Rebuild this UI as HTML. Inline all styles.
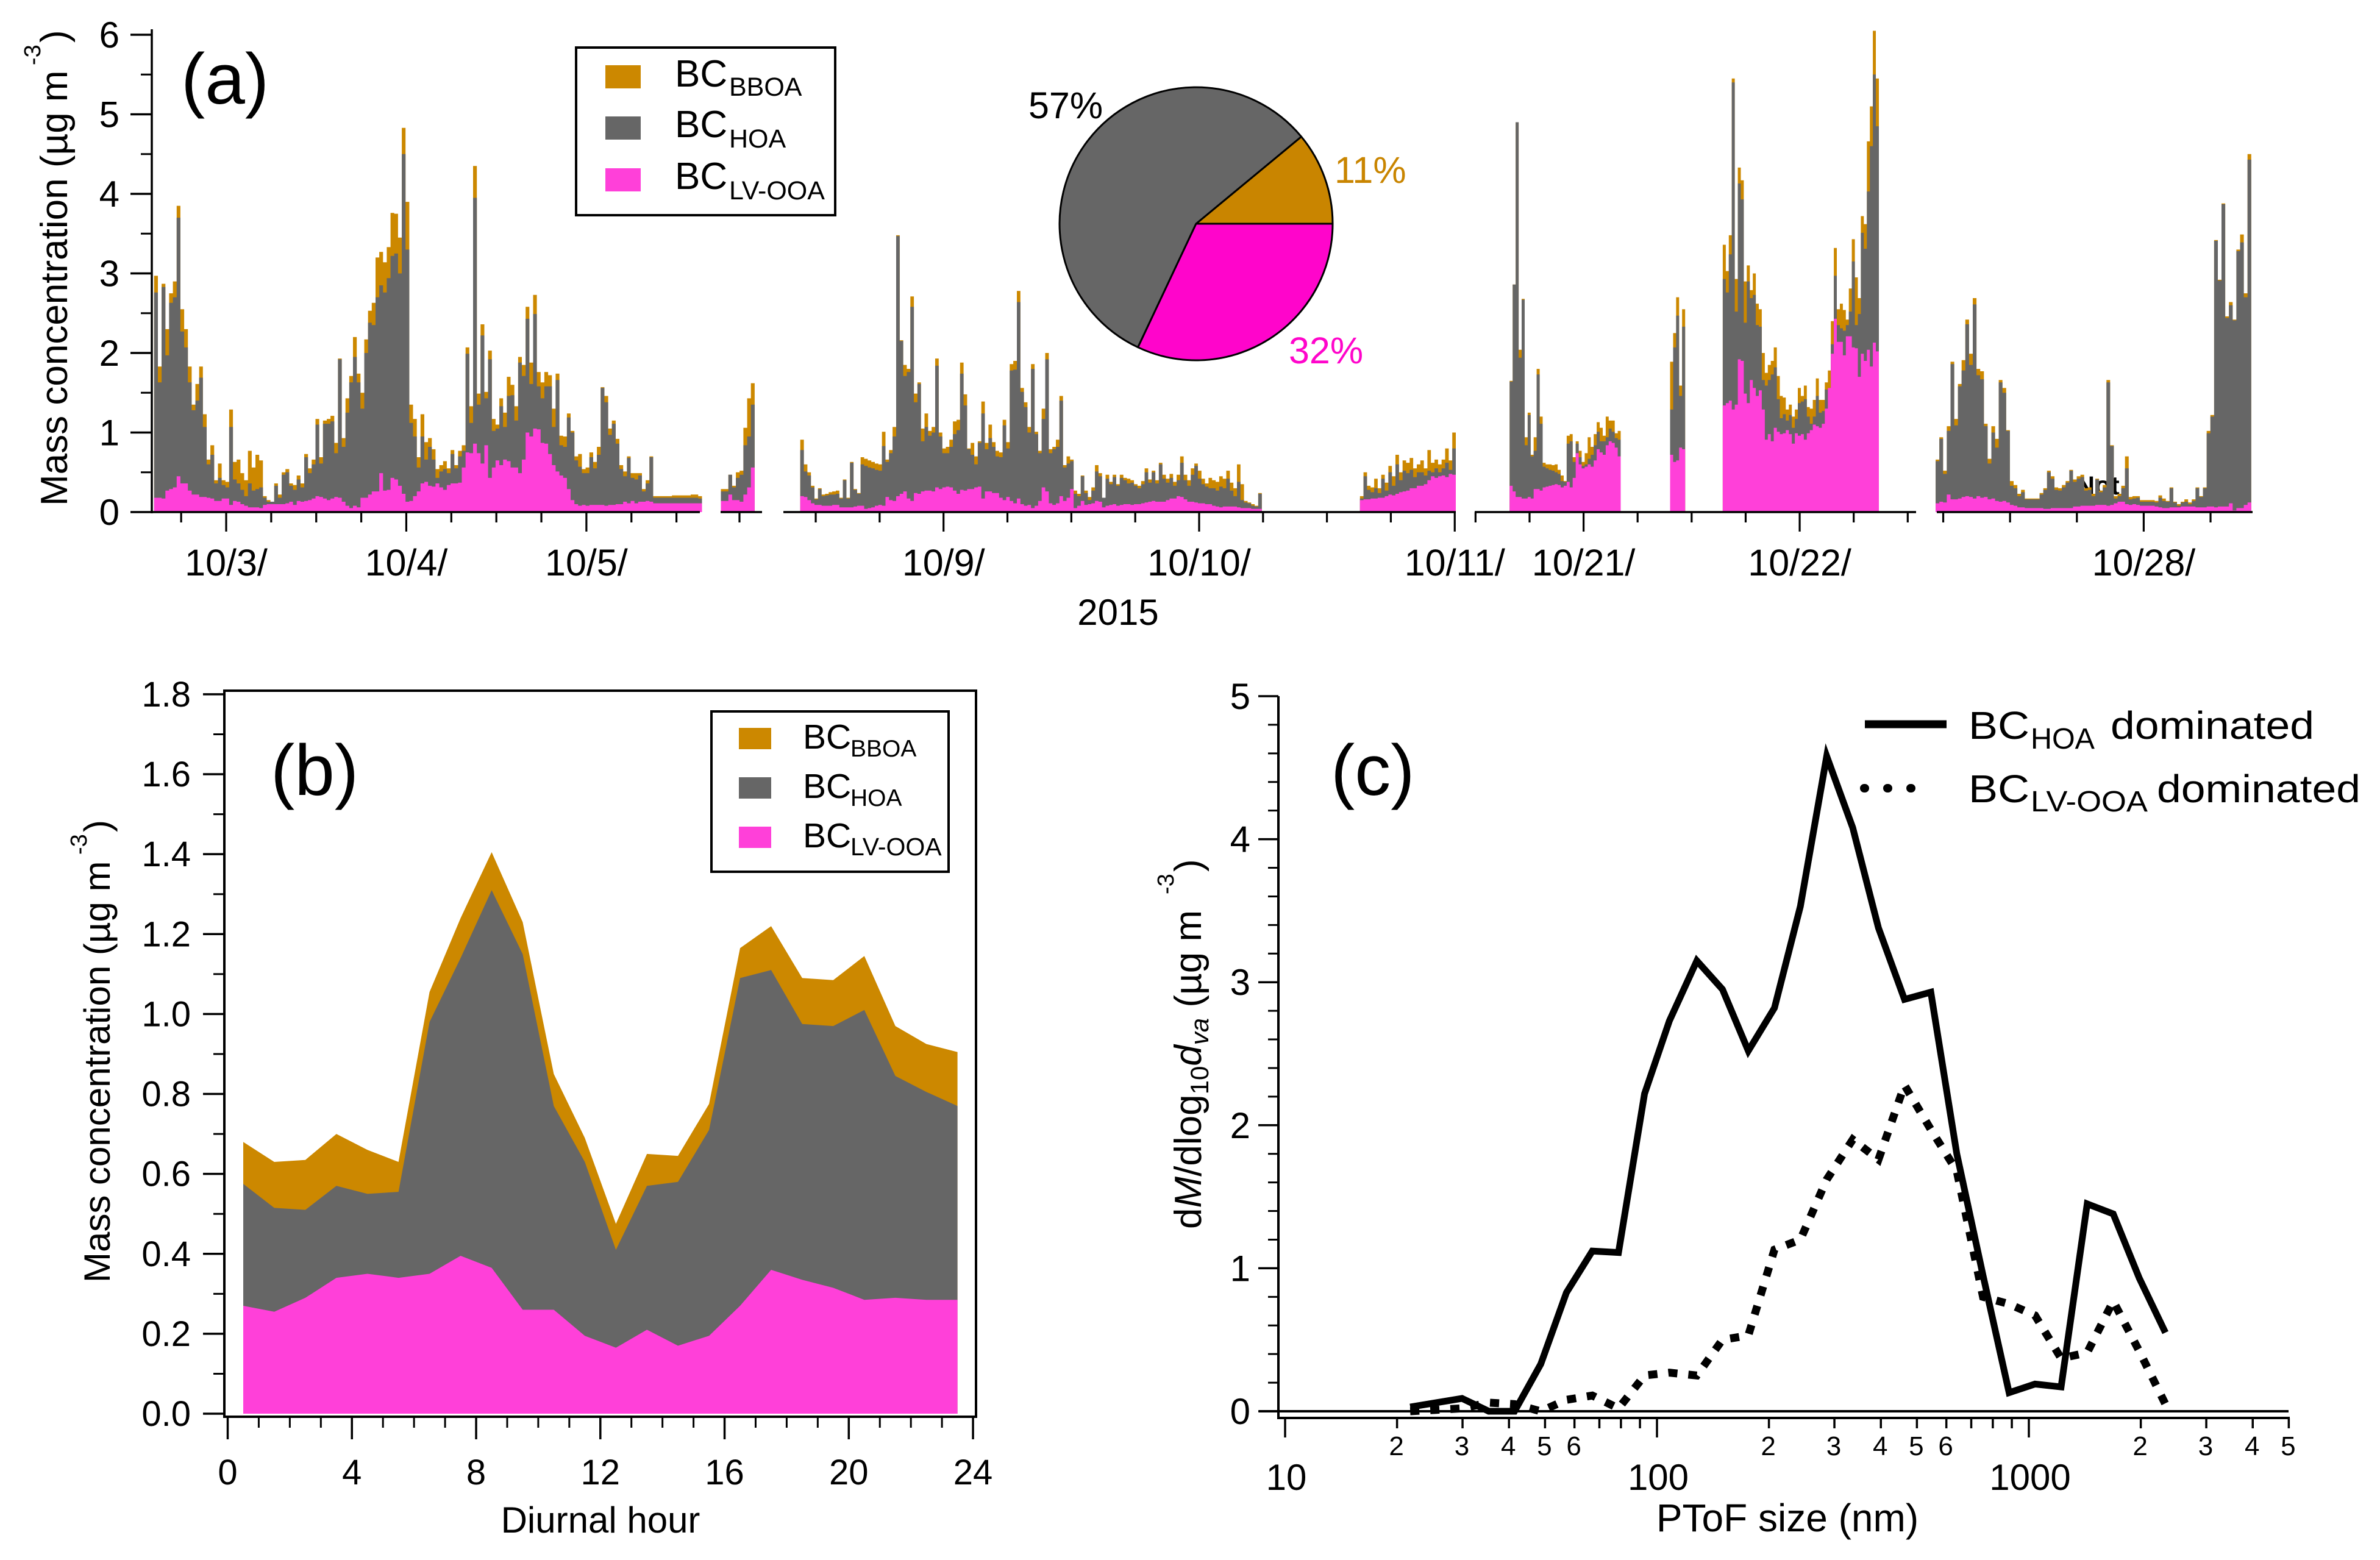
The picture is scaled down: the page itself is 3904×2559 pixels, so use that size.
<!DOCTYPE html>
<html lang="en">
<head>
<meta charset="utf-8">
<title>BC source mass concentrations</title>
<style>
html,body{margin:0;padding:0;background:#fff;}
svg{display:block;}
text{font-family:"Liberation Sans",Arial,sans-serif;fill:#000;}
</style>
</head>
<body>
<svg id="fig" xmlns="http://www.w3.org/2000/svg" width="3904" height="2559" viewBox="0 0 3904 2559">
<rect width="3904" height="2559" fill="#fff"/>

<!-- Panel a static text -->
<g id="panelA">
<text x="3405" y="811" font-size="43" font-weight="bold">Not</text>
</g>
<g id="panelAText">
<text x="297" y="170" font-size="118">(a)</text>
<text transform="translate(110,830) rotate(-90)" font-size="62">Mass concentration (µg m</text>
<text transform="translate(66,107) rotate(-90)" font-size="38">-3</text>
<text transform="translate(110,70) rotate(-90)" font-size="62">)</text>
<text x="1834" y="1025" font-size="60" text-anchor="middle">2015</text>
<rect x="945" y="78" width="425" height="275" fill="#fff" stroke="#000" stroke-width="4"/>
<rect x="993" y="107" width="58" height="38" fill="#CC8800"/>
<rect x="993" y="191" width="58" height="38" fill="#666666"/>
<rect x="993" y="276" width="58" height="38" fill="#FF40D9"/>
<text x="1107" y="142" font-size="62">BC</text>
<text x="1196" y="157" font-size="43">BBOA</text>
<text x="1107" y="225" font-size="62">BC</text>
<text x="1196" y="242" font-size="43">HOA</text>
<text x="1107" y="310" font-size="62">BC</text>
<text x="1196" y="327" font-size="43">LV-OOA</text>
<g id="pie"></g>
<text x="1687" y="194" font-size="61">57%</text>
<text x="2189" y="300" font-size="61" style="fill:#C98500">11%</text>
<text x="2114" y="596" font-size="61" style="fill:#FF05CB">32%</text>
</g>

<!-- Panel b -->
<g id="panelB"></g>
<g>
<text x="444" y="1304" font-size="118">(b)</text>
<text transform="translate(180,2104) rotate(-90)" font-size="60">Mass concentration (µg m</text>
<text transform="translate(142,1402) rotate(-90)" font-size="38">-3</text>
<text transform="translate(180,1365) rotate(-90)" font-size="60">)</text>
<text x="985" y="2514" font-size="60" text-anchor="middle">Diurnal hour</text>
<rect x="1167" y="1167" width="389" height="263" fill="#fff" stroke="#000" stroke-width="4"/>
<rect x="1212" y="1194" width="53" height="35" fill="#CC8800"/>
<rect x="1212" y="1275" width="53" height="35" fill="#666666"/>
<rect x="1212" y="1356" width="53" height="35" fill="#FF40D9"/>
<text x="1317" y="1228" font-size="57">BC</text>
<text x="1395" y="1241" font-size="39">BBOA</text>
<text x="1317" y="1309" font-size="57">BC</text>
<text x="1395" y="1322" font-size="39">HOA</text>
<text x="1317" y="1390" font-size="57">BC</text>
<text x="1395" y="1403" font-size="41">LV-OOA</text>
</g>

<!-- Panel c -->
<g id="panelC"></g>
<g>
<text x="2183" y="1304" font-size="118">(c)</text>
<text transform="translate(1970,2016) rotate(-90)" font-size="62">d<tspan font-style="italic">M</tspan>/dlog<tspan font-size="42" dy="12">10</tspan><tspan font-style="italic" dy="-12">d</tspan><tspan font-style="italic" font-size="42" dy="12">va</tspan><tspan dy="-12">&#160;(µg m</tspan></text>
<text transform="translate(1925,1467) rotate(-90)" font-size="38">-3</text>
<text transform="translate(1970,1430) rotate(-90)" font-size="62">)</text>
<text x="2932" y="2512" font-size="64" text-anchor="middle">PToF size (nm)</text>
<line x1="3059" y1="1188" x2="3193" y2="1188" stroke="#000" stroke-width="13"/>
<line x1="3058" y1="1293" x2="3172" y2="1293" stroke="#000" stroke-width="14" stroke-linecap="round" stroke-dasharray="1 37"/>
<text x="3229" y="1212" font-size="64" textLength="100" lengthAdjust="spacingAndGlyphs">BC</text>
<text x="3331" y="1228" font-size="48" textLength="105" lengthAdjust="spacingAndGlyphs">HOA</text>
<text x="3462" y="1212" font-size="64" textLength="334" lengthAdjust="spacingAndGlyphs">dominated</text>
<text x="3229" y="1316" font-size="64" textLength="100" lengthAdjust="spacingAndGlyphs">BC</text>
<text x="3331" y="1331" font-size="48" textLength="192" lengthAdjust="spacingAndGlyphs">LV-OOA</text>
<text x="3538" y="1316" font-size="64" textLength="334" lengthAdjust="spacingAndGlyphs">dominated</text>
</g>
</svg>

<script>
// ---------- Panel (a) data: stacked tops, µg m-3 ----------
const seg1aBboaTop=[2.97,1.83,2.87,2.3,2.75,2.9,3.85,2.55,2.3,1.83,1.35,1.61,1.83,1.23,.66,.84,.4,.61,.4,.38,1.29,.63,.66,.49,.4,.77,.56,.72,.65,.2,.15,.13,.36,.22,.5,.54,.36,.34,.46,.36,.73,.55,.66,1.17,.69,1.15,1.17,1.21,.87,1.93,.93,1.43,1.71,2.2,1.74,1.5,2.17,2.53,2.63,3.2,3.27,3.14,3.33,3.76,3.75,3.45,4.83,3.9,1.35,1.17,.69,1.23,.88,.93,.79,.54,.59,.64,.55,.78,.59,.77,.84,2.07,1.33,4.35,1.49,2.36,1.51,2.03,1.17,1.1,1.43,1.25,1.7,1.6,1.33,1.95,1.85,2.58,1.88,2.73,1.76,1.63,1.76,1.72,1.3,1.74,.96,.95,1.24,1.02,.7,.73,.54,.56,.75,.63,.82,1.57,1.46,1.05,1.15,.92,.59,.51,.7,.49,.49,.49,.29,.4,.7,.2,.2,.2,.2,.2,.21,.21,.21,.21,.21,.22,.22,.2];
const seg1aHoaTop=[2.76,1.63,2.83,1.97,2.63,2.7,3.7,2.27,2.07,1.63,1.28,1.4,1.69,1.07,.6,.72,.36,.43,.34,.31,1.07,.41,.36,.28,.2,.36,.27,.29,.31,.18,.13,.13,.33,.18,.47,.5,.33,.28,.41,.31,.69,.49,.6,1.1,.61,1.11,1.11,1.14,.74,1.92,.82,1.25,1.63,1.95,1.63,1.3,2,2.38,2.35,2.7,2.85,2.76,2.94,3.22,3.25,3,4.5,3.3,1.12,.95,.56,.95,.66,.82,.66,.43,.51,.54,.49,.73,.55,.7,.77,1.99,1.12,3.95,1.35,2.22,1.43,1.92,1.02,1.05,1.33,1.07,1.46,1.47,1.15,1.88,1.71,2.43,1.61,2.49,1.58,1.43,1.58,1.58,1.07,1.66,.84,.82,1.19,1,.65,.57,.49,.49,.69,.55,.72,1.56,1.38,.97,1.11,.86,.54,.45,.68,.43,.41,.46,.26,.36,.69,.18,.18,.18,.18,.18,.18,.18,.18,.18,.18,.18,.18,.17];
const seg1aLvTop=[.18,.18,.17,.27,.29,.31,.45,.36,.36,.27,.22,.22,.19,.19,.18,.17,.14,.14,.17,.17,.09,.14,.13,.1,.08,.06,.06,.06,.05,.09,.1,.1,.1,.1,.1,.11,.13,.09,.14,.13,.14,.15,.17,.2,.19,.17,.15,.17,.19,.18,.13,.08,.05,.08,.06,.18,.18,.22,.26,.26,.49,.27,.28,.43,.41,.33,.23,.13,.14,.2,.26,.36,.38,.33,.32,.36,.31,.28,.34,.36,.36,.37,.56,.75,.74,.86,.74,.61,.84,.43,.56,.65,.59,.66,.64,.56,.56,.49,.66,1,.95,1.05,1.04,.87,.86,.73,.59,.51,.46,.43,.29,.15,.1,.08,.09,.08,.09,.09,.09,.09,.08,.09,.09,.1,.1,.13,.11,.14,.11,.13,.13,.14,.13,.11,.11,.11,.11,.11,.11,.11,.11,.11,.11,.11,.11,.11];
const seg1bBboaTop=[.29,.29,.47,.33,.5,.52,1.06,1.43,1.62];
const seg1bHoaTop=[.26,.26,.47,.31,.43,.47,.84,.95,1.35];
const seg1bLvTop=[.14,.14,.22,.15,.15,.13,.22,.31,.56];
const seg2aBboaTop=[.91,.6,.5,.33,.17,.3,.22,.23,.25,.26,.27,.18,.41,.18,.63,.29,.24,.69,.67,.65,.63,.61,.6,1.01,.66,.78,1.07,3.48,2.16,1.85,1.8,2.71,1.49,1.63,1.05,1.24,1.02,1.07,1.93,1,.8,.82,.91,1.14,1.16,1.88,1.48,.8,.87,.7,.89,1.39,.87,1.1,.88,.77,.75,1.16,.88,1.86,1.9,2.78,1.56,1.38,1.07,1.86,1.01,.77,1.3,2,.79,.82,.91,1.46,.59,.7,.66,.27,.23,.46,.27,.19,.31,.59,.49,.18,.47,.38,.47,.35,.47,.43,.42,.4,.35,.33,.39,.55,.41,.52,.4,.62,.47,.42,.48,.38,.47,.7,.47,.4,.55,.61,.52,.42,.36,.43,.4,.38,.45,.42,.52,.37,.3,.6,.35,.14,.12,.1,.08,.24];
const seg2aHoaTop=[.78,.51,.46,.31,.16,.29,.2,.21,.22,.22,.23,.17,.4,.17,.62,.28,.23,.6,.58,.56,.55,.53,.52,.83,.63,.74,.95,3.47,2.15,1.71,1.76,2.58,1.38,1.61,.89,1.07,.96,1,1.84,.95,.74,.74,.82,.98,1.03,1.74,1.34,.79,.72,.6,.87,1.24,.79,.93,.82,.7,.69,1.09,.8,1.78,1.79,2.64,1.51,1.32,1,1.8,.98,.74,1.17,1.92,.74,.79,.82,1.4,.56,.61,.64,.23,.2,.45,.24,.15,.27,.51,.45,.18,.42,.35,.44,.33,.43,.4,.36,.37,.33,.3,.35,.5,.37,.5,.36,.6,.42,.37,.43,.33,.4,.62,.4,.33,.47,.58,.42,.35,.32,.3,.3,.27,.32,.3,.42,.27,.2,.38,.15,.12,.11,.08,.07,.23];
const seg2aLvTop=[.2,.19,.15,.11,.09,.09,.08,.08,.08,.09,.09,.06,.06,.06,.06,.07,.08,.08,.04,.05,.06,.08,.09,.08,.19,.15,.14,.2,.23,.26,.17,.14,.24,.23,.26,.27,.27,.26,.31,.29,.31,.32,.31,.27,.23,.28,.27,.29,.29,.31,.32,.17,.26,.26,.24,.24,.18,.15,.19,.14,.11,.17,.1,.08,.09,.05,.08,.14,.31,.26,.11,.09,.11,.2,.14,.18,.29,.05,.08,.14,.09,.1,.11,.14,.13,.06,.08,.09,.1,.08,.09,.1,.1,.09,.1,.1,.11,.12,.13,.14,.13,.13,.13,.15,.17,.17,.2,.19,.16,.13,.13,.12,.11,.11,.1,.1,.08,.07,.06,.07,.07,.07,.07,.06,.05,.05,.05,.04,.04,.04];
const seg2bBboaTop=[.2,.5,.33,.31,.42,.3,.47,.37,.58,.45,.72,.5,.65,.62,.68,.55,.6,.65,.55,.78,.62,.66,.6,.66,.8,.65,1];
const seg2bHoaTop=[.17,.45,.28,.25,.3,.24,.42,.27,.5,.33,.6,.4,.52,.49,.53,.44,.5,.5,.46,.52,.5,.55,.5,.55,.62,.53,.8];
const seg2bLvTop=[.15,.16,.16,.17,.17,.18,.18,.2,.22,.21,.23,.25,.26,.27,.3,.3,.33,.33,.35,.4,.45,.43,.45,.46,.44,.48,.47];
const seg3aBboaTop=[1.65,2.86,4.9,2.04,2.68,.94,1.25,.72,.94,1.8,1.2,.62,.6,.6,.59,.6,.53,.46,.39,.96,.98,.69,.89,.77,.63,.74,.94,.82,.98,1.13,1.06,.96,1.2,1.15,1.15,.99,1.02];
const seg3aHoaTop=[1.64,2.86,4.9,1.94,2.67,.84,1.22,.7,.77,1.73,1.11,.57,.55,.53,.52,.5,.48,.39,.38,.86,.89,.63,.86,.69,.58,.6,.67,.72,.84,1.01,.89,.89,.94,1.05,1.01,.93,.91];
const seg3aLvTop=[.33,.26,.19,.19,.17,.17,.19,.17,.29,.29,.27,.31,.32,.33,.34,.35,.34,.31,.33,.38,.31,.43,.74,.6,.55,.57,.6,.57,.65,.79,.75,.72,.84,.89,.87,.81,.7];
const seg3bBboaTop=[1.89,2.25,2.7,1.59,2.55];
const seg3bHoaTop=[1.29,2.07,2.47,1.46,2.33];
const seg3bLvTop=[.72,.63,.65,.81,.79];
const seg3cBboaTop=[3.36,3.03,3.48,5.45,2.93,4.33,4.17,2.9,3.1,2.79,3,2.62,2.55,2,1.75,1.85,1.9,2.07,1.71,1.46,1.44,1.29,1.35,1.2,1.29,1.56,1.46,1.59,1.32,1.3,1.41,1.68,1.41,1.41,1.63,1.78,2.4,3.32,2.55,2.62,2.54,2.42,2.81,3.43,2.95,2.69,3.72,3.62,4.66,5.1,6.05,5.45];
const seg3cHoaTop=[2.93,2.76,3.24,5.4,2.52,4.13,3.93,2.38,2.9,2.69,2.73,2.35,2.33,1.66,1.59,1.66,1.73,1.82,1.42,1.18,1.23,1.15,1.22,1.06,1.17,1.37,1.39,1.42,1.2,1.11,1.2,1.46,1.25,1.27,1.54,1.56,2.11,2.97,2.35,2.31,2.28,2.35,2.52,3.15,2.35,2.49,3.51,3.31,4.03,4.6,5.5,4.85];
const seg3cLvTop=[1.34,1.37,1.4,1.29,1.35,1.92,1.9,1.49,1.37,1.66,1.56,1.46,1.53,1.29,.91,.98,.89,1.06,1.01,.98,.99,1.03,.98,.86,.99,.96,.98,.91,.99,1.03,1.1,1.08,1.06,1.11,1.3,1.56,1.99,2.43,2.14,2.14,1.97,2.21,2.21,2.07,2.06,1.7,1.99,1.9,2.04,1.83,2.13,2.02];
const seg4BboaTop=[.66,.94,.52,1.08,1.89,1.17,1.61,1.91,2.42,1.99,2.69,1.8,1.77,1.11,.67,1.08,.92,1.66,1.56,1.03,.39,.34,.23,.28,.17,.17,.17,.17,.24,.3,.52,.45,.31,.3,.34,.39,.53,.41,.45,.47,.3,.31,.23,.42,.27,.34,1.66,.84,.2,.23,.33,.7,.19,.2,.2,.15,.15,.15,.15,.14,.21,.17,.14,.31,.13,.1,.13,.16,.12,.16,.31,.2,.31,1.02,1.22,3.42,2.92,3.88,2.46,2.64,2.42,3.3,3.49,2.75,4.5];
const seg4HoaTop=[.64,.92,.48,1.02,1.86,1.09,1.58,1.78,2.36,1.85,2.61,1.72,1.67,1.08,.61,1,.81,1.63,1.5,1.02,.33,.3,.2,.25,.16,.16,.16,.16,.22,.28,.5,.42,.28,.27,.31,.37,.52,.38,.42,.44,.27,.28,.2,.41,.25,.31,1.63,.83,.17,.2,.3,.55,.16,.17,.18,.13,.13,.13,.13,.12,.18,.14,.13,.3,.12,.08,.12,.13,.1,.14,.3,.19,.3,.99,1.2,3.41,2.91,3.87,2.44,2.6,2.41,3.28,3.39,2.7,4.43];
const seg4LvTop=[.11,.13,.12,.22,.16,.16,.17,.19,.2,.19,.17,.2,.18,.19,.16,.17,.14,.13,.14,.12,.09,.08,.06,.06,.05,.05,.05,.05,.05,.04,.04,.05,.05,.05,.05,.05,.05,.07,.07,.08,.08,.08,.08,.09,.09,.09,.08,.09,.11,.13,.13,.1,.09,.1,.09,.08,.08,.08,.08,.07,.06,.05,.05,.06,.06,.06,.07,.07,.07,.07,.06,.06,.06,.07,.07,.06,.07,.07,.07,.11,.02,.05,.05,.09,.12];
const aYTicks=[0,1,2,3,4,5,6];
const dayLabelsA=["10/3/","10/4/","10/5/"];
const dayLabelsB=["10/9/","10/10/","10/11/"];
const dayLabelsC=["10/21/","10/22/"];
const dayLabelsD=["10/28/"];
const pieShares=[11,57,32];
const pieNames=["bboa","hoa","lv-ooa"];

// ---------- Panel (b) data ----------
const diurnalHours=[.5,1.5,2.5,3.5,4.5,5.5,6.5,7.5,8.5,9.5,10.5,11.5,12.5,13.5,14.5,15.5,16.5,17.5,18.5,19.5,20.5,21.5,22.5,23.5];
const diurnalBboaTop=[.68,.63,.635,.70,.66,.63,1.055,1.24,1.405,1.23,.85,.69,.475,.65,.645,.775,1.165,1.22,1.09,1.085,1.145,.97,.925,.905];
const diurnalHoaTop=[.575,.515,.51,.57,.55,.555,.98,1.14,1.31,1.15,.77,.63,.41,.57,.58,.71,1.09,1.11,.975,.97,1.01,.845,.805,.77];
const diurnalLvTop=[.27,.255,.29,.34,.35,.34,.35,.395,.365,.26,.26,.195,.165,.21,.17,.195,.27,.36,.335,.315,.285,.29,.285,.285];
const bYTickLabels=["0.0","0.2","0.4","0.6","0.8","1.0","1.2","1.4","1.6","1.8"];
const bXTickLabels=["0","4","8","12","16","20","24"];

// ---------- Panel (c) data ----------
const ptofSize=[21.7,25.5,29.9,35.3,41.4,48.7,57.1,67,78.8,92.6,108,128,150,176,207,243,286,336,394,463,545,640,753,885,1039,1221,1435,1686,1982,2329];
const hoaDominated=[.03,.06,.09,0,0,.33,.83,1.12,1.11,2.22,2.73,3.15,2.95,2.52,2.82,3.53,4.58,4.08,3.38,2.88,2.93,1.8,.95,.13,.19,.17,1.45,1.38,.93,.55];
const lvOoaDominated=[0,.01,.02,.06,.05,0,.08,.11,.02,.25,.27,.25,.5,.53,1.13,1.2,1.62,1.9,1.76,2.28,1.97,1.68,.8,.75,.67,.37,.41,.77,.42,.05];
const cYTickLabels=["0","1","2","3","4","5"];
const cDecades=[10,100,1000];
const cMinorDigits=[2,3,4,5,6,7,8,9];
const cLabelledDigits=[2,3,4,5,6];

// ---------- helpers ----------
const NS="http://www.w3.org/2000/svg";
const COL={bboa:"#CC8800",hoa:"#666666",lv:"#FF40D9"};
function el(tag,attrs,parent){
  const e=document.createElementNS(NS,tag);
  for(const k in attrs)e.setAttribute(k,attrs[k]);
  parent.appendChild(e);
  return e;
}
function tick(parent,x1,y1,x2,y2,w,name){
  const t=el("line",{x1:x1,y1:y1,x2:x2,y2:y2,stroke:"#000","stroke-width":w},parent);
  
  
  return t;
}
function label(parent,x,y,size,anchor,str,name){
  const t=el("text",{x:x,y:y,"font-size":size,"text-anchor":anchor},parent);
  t.textContent=str;
  
  
  return t;
}

// ---------- Panel (a) ----------
const gA=document.getElementById("panelA");
const yA=v=>840-130.5*v;
const xA=h=>371+12.31*h;
const xA2=h=>1213+12.31*h;
const xB=h=>1547.7+17.47*h;
const xC=h=>2597.6+14.77*h;
const xD=h=>3516.4+18.27*h;
function stepPath(xf,start,step,vals){
  let d="M"+xf(start).toFixed(1)+" "+yA(0);
  vals.forEach((v,i)=>{
    d+="V"+yA(v).toFixed(1)+"H"+xf(start+step*(i+1)).toFixed(1);
  });
  return d+"V"+yA(0)+"Z";
}
function drawSegment(id,xf,start,step,top,mid,low){
  const g=el("g",{},gA);
  
  
  const a=el("path",{d:stepPath(xf,start,step,top),fill:COL.bboa},g);
  
  
  const b=el("path",{d:stepPath(xf,start,step,mid),fill:COL.hoa},g);
  
  
  const c=el("path",{d:stepPath(xf,start,step,low),fill:COL.lv},g);
  
  
}
drawSegment("1a",xA,-9.6,.5,seg1aBboaTop,seg1aHoaTop,seg1aLvTop);
drawSegment("1b",xA2,-2.48,.5,seg1bBboaTop,seg1bHoaTop,seg1bLvTop);
drawSegment("2a",xB,-13.45,1/3,seg2aBboaTop,seg2aHoaTop,seg2aLvTop);
drawSegment("2b",xB,39.1,1/3,seg2bBboaTop,seg2bHoaTop,seg2bLvTop);
drawSegment("3a",xC,-8.21,1/3,seg3aBboaTop,seg3aHoaTop,seg3aLvTop);
drawSegment("3b",xC,9.61,1/3,seg3bBboaTop,seg3bHoaTop,seg3bLvTop);
drawSegment("3c",xC,15.46,1/3,seg3cBboaTop,seg3cHoaTop,seg3cLvTop);
drawSegment("4",xD,-18.68,1/3,seg4BboaTop,seg4HoaTop,seg4LvTop);

// y axis
tick(gA,249,48,249,842,3.5,"panel-a-y-axis");
aYTicks.forEach(v=>{
  tick(gA,214,yA(v),249,yA(v),3.5,"panel-a-y-tick");
  if(v<6)tick(gA,231,yA(v+.5),249,yA(v+.5),3,"panel-a-y-minor-tick");
  label(gA,196,yA(v)+21,60,"end",String(v),"panel-a-y-tick-label");
});
// x axis pieces
function xPiece(xf,pxFrom,pxTo,hFrom,hTo,labels){
  tick(gA,pxFrom,840,pxTo,840,3.5,"panel-a-x-axis");
  for(let h=hFrom;h<=hTo;h+=6){
    const major=labels.length>0&&((h%24)+24)%24===0;
    tick(gA,xf(h),840,xf(h),major?872:857,3.2,major?"panel-a-x-major-tick":"panel-a-x-minor-tick");
    if(major){
      const idx=h/24;
      if(labels[idx])label(gA,xf(h),944,61,"middle",labels[idx],"panel-a-x-tick-label");
    }
  }
}
xPiece(xA,247,1148,-6,60,dayLabelsA);
xPiece(xA2,1182,1250,0,0,[]);
xPiece(xB,1285,2388,-12,48,dayLabelsB);
xPiece(xC,2419,3143,-12,36,dayLabelsC);
xPiece(xD,3177,3695,-18,6,dayLabelsD);

// pie
const gPie=document.getElementById("pie");
const pieColors=["#C98500","#666666","#FF05CB"];
(function(){
  const cx=1962,cy=367,r=224;
  const total=pieShares.reduce((a,b)=>a+b,0);
  let ang=0;
  pieShares.forEach((s,i)=>{
    const a0=ang, a1=ang+s/total*2*Math.PI;
    ang=a1;
    const x0=cx+r*Math.cos(a0),y0=cy-r*Math.sin(a0);
    const x1=cx+r*Math.cos(a1),y1=cy-r*Math.sin(a1);
    const large=(a1-a0)>Math.PI?1:0;
    const p=el("path",{d:`M${cx} ${cy}L${x0.toFixed(1)} ${y0.toFixed(1)}A${r} ${r} 0 ${large} 0 ${x1.toFixed(1)} ${y1.toFixed(1)}Z`,fill:pieColors[i],stroke:"#000","stroke-width":3,"stroke-linejoin":"round"},gPie);
    
    
  });
})();

// ---------- Panel (b) ----------
const gB=document.getElementById("panelB");
const xb=h=>373.5+50.94*h;
const yb=v=>2319-655.6*v;
function areaB(vals,color,name){
  let d="M"+xb(diurnalHours[0]).toFixed(1)+" "+yb(0);
  vals.forEach((v,i)=>{d+="L"+xb(diurnalHours[i]).toFixed(1)+" "+yb(v).toFixed(1);});
  d+="L"+xb(diurnalHours[diurnalHours.length-1]).toFixed(1)+" "+yb(0)+"Z";
  const p=el("path",{d:d,fill:color},gB);
  
  
}
areaB(diurnalBboaTop,COL.bboa,"area-bboa-diurnal");
areaB(diurnalHoaTop,COL.hoa,"area-hoa-diurnal");
areaB(diurnalLvTop,COL.lv,"area-lv-ooa-diurnal");
const frameB=el("rect",{x:368,y:1133,width:1233,height:1191,fill:"none",stroke:"#000","stroke-width":4},gB);


bYTickLabels.forEach((s,i)=>{
  const v=parseFloat(s);
  tick(gB,333,yb(v),368,yb(v),3.5,"panel-b-y-tick");
  if(i<bYTickLabels.length-1)tick(gB,350,yb(v+.1),368,yb(v+.1),3,"panel-b-y-minor-tick");
  label(gB,313,yb(v)+20,58,"end",s,"panel-b-y-tick-label");
});
bXTickLabels.forEach((s,i)=>{
  const h=parseFloat(s);
  tick(gB,xb(h),2324,xb(h),2361,3.5,"panel-b-x-tick");
  label(gB,xb(h),2435,58,"middle",s,"panel-b-x-tick-label");
  if(i<bXTickLabels.length-1){
    for(let k=1;k<4;k++)tick(gB,xb(h+k),2324,xb(h+k),2342,3,"panel-b-x-minor-tick");
  }
});

// ---------- Panel (c) ----------
const gC=document.getElementById("panelC");
const xc=s=>2108+610*(Math.log10(s)-1);
const yc=v=>2315-234.6*v;
tick(gC,2097,1142,2097,2328,4,"panel-c-y-axis");
tick(gC,2095,2326,3756,2326,4,"panel-c-x-axis");
tick(gC,2065,yc(0),3754,yc(0),4,"panel-c-zero-line");
cYTickLabels.forEach((s,i)=>{
  const v=parseFloat(s);
  tick(gC,2064,yc(v),2097,yc(v),3.5,"panel-c-y-tick");
  label(gC,2051,yc(v)+21,60,"end",s,"panel-c-y-tick-label");
  if(i<cYTickLabels.length-1){
    for(let k=1;k<5;k++)tick(gC,2080,yc(v+k*.2),2097,yc(v+k*.2),3,"panel-c-y-minor-tick");
  }
});
cDecades.forEach(dec=>{
  tick(gC,xc(dec),2326,xc(dec),2358,3.5,"panel-c-x-major-tick");
  label(gC,xc(dec)+2,2444,60,"middle",String(dec),"panel-c-x-major-label");
  cMinorDigits.forEach(m=>{
    const s=dec*m;
    if(s>5000)return;
    tick(gC,xc(s),2326,xc(s),2343,3.5,"panel-c-x-minor-tick");
    if(cLabelledDigits.includes(m)&&!(dec===1000&&m===6))label(gC,xc(s)-1,2387,44,"middle",String(m),"panel-c-x-minor-label");
  });
});
function lineC(vals,width,dash,name){
  const d=vals.map((v,i)=>(i?"L":"M")+xc(ptofSize[i]).toFixed(1)+" "+yc(v).toFixed(1)).join("");
  const p=el("path",{d:d,fill:"none",stroke:"#000","stroke-width":width,"stroke-linejoin":"miter"},gC);
  if(dash)p.setAttribute("stroke-dasharray",dash);
  
  
}
lineC(lvOoaDominated,13,"15 18","line-lv-ooa-dominated");
lineC(hoaDominated,11,"","line-hoa-dominated");
</script>
</body>
</html>
